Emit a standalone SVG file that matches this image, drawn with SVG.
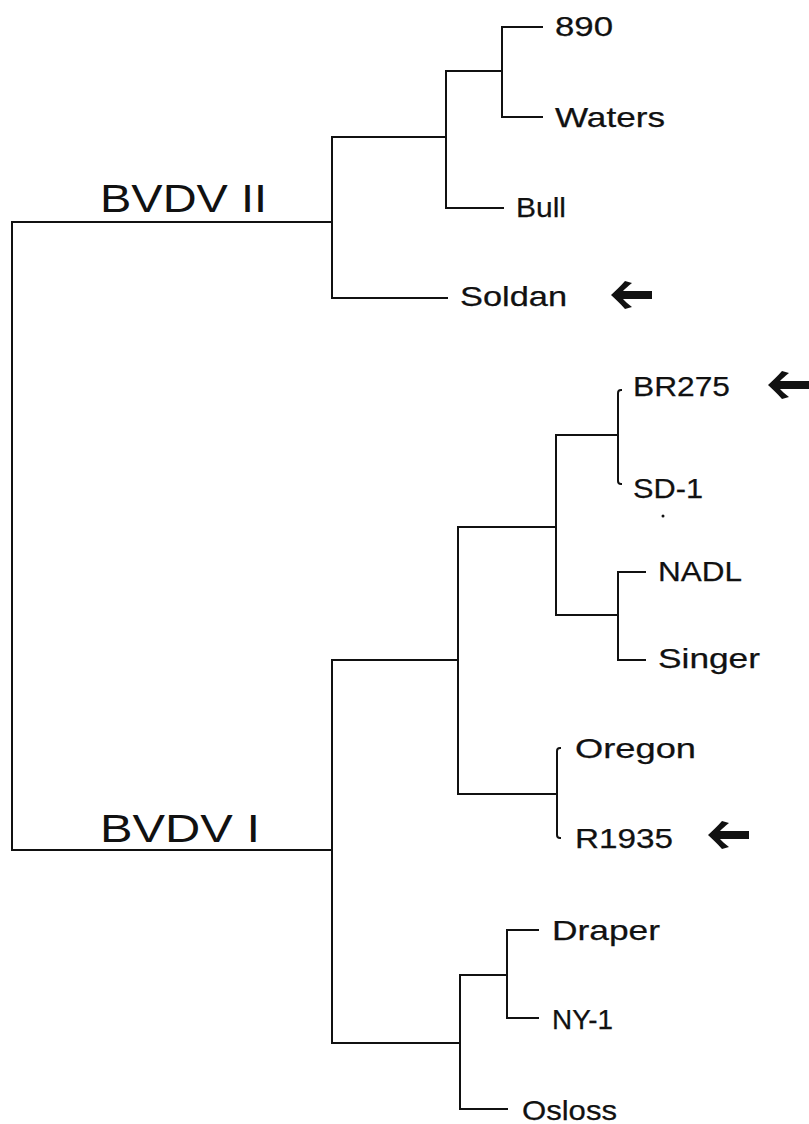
<svg xmlns="http://www.w3.org/2000/svg" width="809" height="1124" viewBox="0 0 809 1124">
<style>
.e{fill:none;stroke:#111;stroke-width:2;stroke-linecap:square}
.t{font-family:"Liberation Sans","DejaVu Sans",sans-serif;font-size:28px;fill:#111;stroke:#111;stroke-width:0.25}
.c{font-family:"Liberation Sans","DejaVu Sans",sans-serif;font-size:38px;fill:#111}
.a{fill:#111}
</style>
<defs>
<path id="arr" d="M0,0 C5,-5 10,-9 14,-14 L21,-12 C17,-9 14,-6 12,-4 L41,-4 L41,4 L12,4 C14,6 17,9 21,12 L14,14 C10,9 5,5 0,0 Z"/>
</defs>
<rect width="809" height="1124" fill="#fff"/>
<g id="connectors">
<path class="e" d="M332,222 L12,222 L12,850 L332,850"/>
<path class="e" d="M446,137 L332,137 L332,298 L447,298"/>
<path class="e" d="M502,71 L446,71 L446,208 L503,208"/>
<path class="e" d="M542,27 L502,27 L502,117 L542,117"/>
<path class="e" d="M458,660 L332,660 L332,1043 L460,1043"/>
<path class="e" d="M556,527 L458,527 L458,794 L557,794"/>
<path class="e" d="M618,435 L556,435 L556,615 L618,615"/>
<path class="e" d="M621,390 Q618,390 618,393 L618,481 Q618,484 621,484"/>
<path class="e" d="M645,572 L618,572 L618,660 L645,660"/>
<path class="e" d="M560,748 Q557,748 557,751 L557,835 Q557,838 560,838"/>
<path class="e" d="M507,975 L460,975 L460,1109 L507,1109"/>
<path class="e" d="M538,930 L507,930 L507,1018 L538,1018"/>
</g>
<g id="clade-bvdv2"><text class="c" x="100" y="212" textLength="167" lengthAdjust="spacingAndGlyphs">BVDV  II</text></g>
<g id="clade-bvdv1"><text class="c" x="100" y="842" textLength="160" lengthAdjust="spacingAndGlyphs">BVDV  I</text></g>
<g id="leaf-890"><text class="t" x="555" y="36" textLength="58" lengthAdjust="spacingAndGlyphs">890</text></g>
<g id="leaf-waters"><text class="t" x="555" y="127" textLength="110" lengthAdjust="spacingAndGlyphs">Waters</text></g>
<g id="leaf-bull"><text class="t" x="516" y="217" textLength="50" lengthAdjust="spacingAndGlyphs">Bull</text></g>
<g id="leaf-soldan"><text class="t" x="460" y="306" textLength="107" lengthAdjust="spacingAndGlyphs">Soldan</text><use href="#arr" class="a" x="611" y="295"/></g>
<g id="leaf-br275"><text class="t" x="633" y="396" textLength="97" lengthAdjust="spacingAndGlyphs">BR275</text><use href="#arr" class="a" x="768" y="385"/></g>
<g id="leaf-sd1"><text class="t" x="633" y="498" textLength="70" lengthAdjust="spacingAndGlyphs">SD-1</text></g>
<circle cx="663" cy="516" r="1.5" fill="#111"/>
<g id="leaf-nadl"><text class="t" x="658" y="581" textLength="84" lengthAdjust="spacingAndGlyphs">NADL</text></g>
<g id="leaf-singer"><text class="t" x="658" y="668" textLength="102" lengthAdjust="spacingAndGlyphs">Singer</text></g>
<g id="leaf-oregon"><text class="t" x="575" y="758" textLength="121" lengthAdjust="spacingAndGlyphs">Oregon</text></g>
<g id="leaf-r1935"><text class="t" x="575" y="848" textLength="98" lengthAdjust="spacingAndGlyphs">R1935</text><use href="#arr" class="a" x="708" y="835"/></g>
<g id="leaf-draper"><text class="t" x="552" y="940" textLength="108" lengthAdjust="spacingAndGlyphs">Draper</text></g>
<g id="leaf-ny1"><text class="t" x="552" y="1029" textLength="61" lengthAdjust="spacingAndGlyphs">NY-1</text></g>
<g id="leaf-osloss"><text class="t" x="522" y="1120" textLength="95" lengthAdjust="spacingAndGlyphs">Osloss</text></g>
</svg>
